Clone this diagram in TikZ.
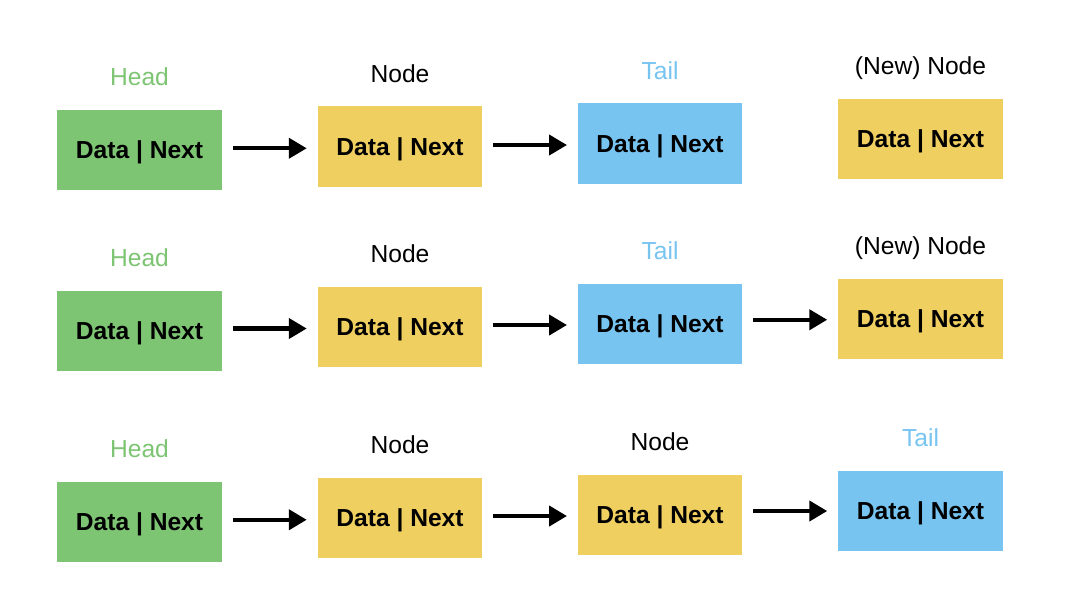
\documentclass[tikz,border=0pt]{standalone}
\usepackage{fontspec}
\setmainfont{Liberation Sans}
\usetikzlibrary{arrows.meta,calc}
\definecolor{headgreen}{HTML}{7DC473}
\definecolor{nodeyellow}{HTML}{F0CF61}
\definecolor{tailblue}{HTML}{77C4F1}
\tikzstyle{line} = [draw, line width=3pt, -{Triangle[length=0.45cm,width=0.5cm]}]
\tikzstyle{cell} = [rectangle, text centered, minimum width=4.1cm, minimum height=2cm, text height=12.6pt, text depth=0pt, font=\fontsize{17.5}{20}\selectfont\bfseries]
\tikzstyle{headcell} = [cell, fill=headgreen]
\tikzstyle{nodecell} = [cell, fill=nodeyellow]
\tikzstyle{tailcell} = [cell, fill=tailblue]
\tikzstyle{tag} = [inner sep=0pt, text height=12.6pt, text depth=0pt, font=\fontsize{17.5}{20}\selectfont]

\begin{document}
\begin{tikzpicture}[x=0.025cm, y=-0.025cm]
        \useasboundingbox (0,0) rectangle (1090,608);
        % first row
        \node[headcell] (h1) at (139.5,150) {Data | Next};
        \node[nodecell] (n1) at (400,146.5) {Data | Next};
        \node[tailcell] (t1) at (660,143.5) {Data | Next};
        \node[nodecell] (nn1) at (920.5,139) {Data | Next};
        \node[tag, text=headgreen] (lh1) at ($(h1.north)+(0,-33)$) {Head};
        \node[tag] (ln1) at ($(n1.north)+(0,-33)$) {Node};
        \node[tag, text=tailblue] (lt1) at ($(t1.north)+(0,-33)$) {Tail};
        \node[tag] (lnn1) at ($(nn1.north)+(0,-33)$) {(New) Node};
        \path[line] ($(h1.east)!.5!(n1.west)$) ++(-37,0) -- ++(74,0);
        \path[line] ($(n1.east)!.5!(t1.west)$) ++(-37,0) -- ++(74,0);
        % second row
        \node[headcell] (h2) at (139.5,330.5) {Data | Next};
        \node[nodecell] (n2) at (400,326.5) {Data | Next};
        \node[tailcell] (t2) at (660,323.5) {Data | Next};
        \node[nodecell] (nn2) at (920.5,319) {Data | Next};
        \node[tag, text=headgreen] (lh2) at ($(h2.north)+(0,-33)$) {Head};
        \node[tag] (ln2) at ($(n2.north)+(0,-33)$) {Node};
        \node[tag, text=tailblue] (lt2) at ($(t2.north)+(0,-33)$) {Tail};
        \node[tag] (lnn2) at ($(nn2.north)+(0,-33)$) {(New) Node};
        \path[line] ($(h2.east)!.5!(n2.west)$) ++(-37,0) -- ++(74,0);
        \path[line] ($(n2.east)!.5!(t2.west)$) ++(-37,0) -- ++(74,0);
        \path[line] ($(t2.east)!.5!(nn2.west)$) ++(-37,-1.5) -- ++(74,0);
        % third row
        \node[headcell] (h3) at (139.5,522) {Data | Next};
        \node[nodecell] (n3) at (400,517.5) {Data | Next};
        \node[nodecell] (m3) at (660,514.5) {Data | Next};
        \node[tailcell] (t3) at (920.5,510.5) {Data | Next};
        \node[tag, text=headgreen] (lh3) at ($(h3.north)+(0,-33)$) {Head};
        \node[tag] (ln3) at ($(n3.north)+(0,-33)$) {Node};
        \node[tag] (lm3) at ($(m3.north)+(0,-33)$) {Node};
        \node[tag, text=tailblue] (lt3) at ($(t3.north)+(0,-33)$) {Tail};
        \path[line] ($(h3.east)!.5!(n3.west)$) ++(-37,0) -- ++(74,0);
        \path[line] ($(n3.east)!.5!(m3.west)$) ++(-37,0) -- ++(74,0);
        \path[line] ($(m3.east)!.5!(t3.west)$) ++(-37,-1.5) -- ++(74,0);
    \end{tikzpicture}
\end{document}
